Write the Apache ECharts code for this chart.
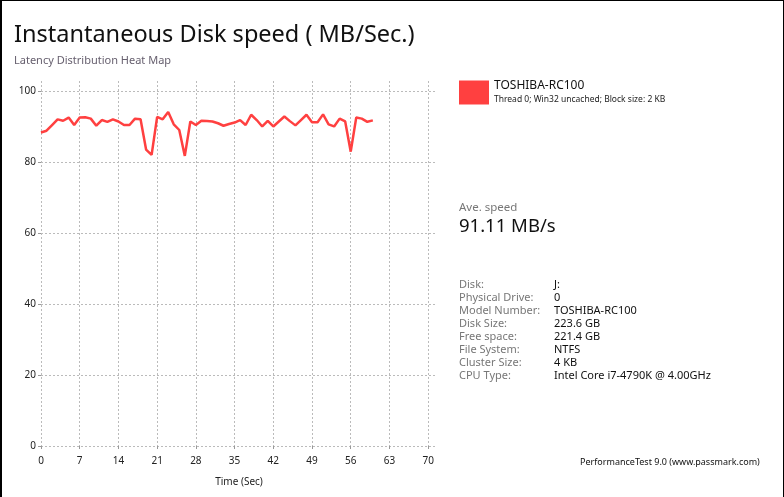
<!DOCTYPE html>
<html>
<head>
<meta charset="utf-8">
<style>
  html, body { margin: 0; padding: 0; background: #fff; }
  #chart { width: 784px; height: 497px; box-sizing: border-box; border: 1px solid #000; border-bottom: none; border-left-width: 2px; }
</style>
<script src="https://cdn.jsdelivr.net/npm/echarts@6/dist/echarts.min.js"></script>
</head>
<body>
<div id="chart"></div>
<script>
// seconds 0..60
const seconds = [0,1,2,3,4,5,6,7,8,9,10,11,12,13,14,15,16,17,18,19,20,21,22,23,24,25,26,27,28,29,30,
  31,32,33,34,35,36,37,38,39,40,41,42,43,44,45,46,47,48,49,50,51,52,53,54,55,56,57,58,59,60]
const speed = [88.3,88.8,90.4,92.0,91.6,92.5,90.4,92.5,92.6,92.2,90.2,91.8,91.3,92.0,91.4,90.4,90.4,92.2,92.0,83.5,
  82.0,92.7,92.0,94.1,90.6,89.0,81.7,91.4,90.4,91.6,91.5,91.4,90.9,90.2,90.7,91.1,91.8,90.4,93.3,91.8,
  90.0,91.6,90.0,91.4,92.8,91.5,90.3,91.8,93.3,91.2,91.2,93.4,90.6,90.0,92.2,91.4,82.9,92.5,92.2,91.3,91.7]
const infoLabels = ['Disk:', 'Physical Drive:', 'Model Number:', 'Disk Size:', 'Free space:', 'File System:', 'Cluster Size:', 'CPU Type:']
const infoValues = ['J:', '0', 'TOSHIBA-RC100', '223.6 GB', '221.4 GB', 'NTFS', '4 KB', 'Intel Core i7-4790K @ 4.00GHz']

const font = 'Noto Sans'
const chart = echarts.init(document.getElementById('chart'))

const infoText = []
infoLabels.forEach((lab, i) => {
  infoText.push({ type: 'text', left: 457, top: 278 + i * 13,
    style: { text: lab, font: '11px "Noto Sans"', fill: '#777' } })
  infoText.push({ type: 'text', left: 552, top: 278 + i * 13,
    style: { text: infoValues[i], font: '11px "Noto Sans"', fill: '#111' } })
})

chart.setOption({
  animation: false,
  textStyle: { fontFamily: font },
  title: {
    text: 'Instantaneous Disk speed ( MB/Sec.)',
    subtext: 'Latency Distribution Heat Map',
    left: 7,
    top: 17,
    itemGap: 8,
    textStyle: { fontFamily: font, fontSize: 23.5, fontWeight: 'normal', color: '#111' },
    subtextStyle: { fontFamily: font, fontSize: 11, color: '#665f6e' }
  },
  legend: {
    left: 452,
    top: 74,
    itemWidth: 30,
    itemHeight: 24,
    itemGap: 6,
    icon: 'rect',
    data: ['TOSHIBA-RC100'],
    formatter: name => '{a|' + name + '}\n{b|Thread 0; Win32 uncached; Block size: 2 KB}',
    textStyle: {
      rich: {
        a: { fontFamily: font, fontSize: 12, color: '#111', lineHeight: 15 },
        b: { fontFamily: font, fontSize: 8.5, color: '#222', lineHeight: 13 }
      }
    }
  },
  grid: { left: 39, right: 346, top: 80, bottom: 51 },
  xAxis: {
    type: 'value',
    min: 0,
    max: 71.6,
    interval: 7,
    name: 'Time (Sec)',
    nameLocation: 'middle',
    nameGap: 31,
    nameTextStyle: { fontSize: 10, color: '#222' },
    axisLine: { show: false },
    axisTick: { show: true, length: 3, lineStyle: { color: '#999' } },
    axisLabel: { showMaxLabel: false, fontSize: 10, color: '#222', margin: 10 },
    splitLine: { show: true, showMaxLine: false, lineStyle: { color: '#bbb', type: [2, 2], width: 1 } }
  },
  yAxis: {
    type: 'value',
    min: 0,
    max: 102.8,
    interval: 20,
    axisLine: { show: false },
    axisTick: { show: true, length: 3, lineStyle: { color: '#999' } },
    axisLabel: { showMaxLabel: false, fontSize: 10, color: '#222', margin: 5 },
    splitLine: { show: true, showMaxLine: false, lineStyle: { color: '#bbb', type: [2, 2], width: 1 } }
  },
  graphic: [
    { type: 'text', left: 457, top: 201, style: { text: 'Ave. speed', font: '11.5px "Noto Sans"', fill: '#777' } },
    { type: 'text', left: 457, top: 216, style: { text: '91.11 MB/s', font: '18.5px "Noto Sans"', fill: '#111' } },
    { type: 'text', left: 578, top: 457, style: { text: 'PerformanceTest 9.0 (www.passmark.com)', font: '9px "Noto Sans"', fill: '#111' } }
  ].concat(infoText),
  series: [{
    name: 'TOSHIBA-RC100',
    type: 'line',
    data: seconds.map((s, i) => [s, speed[i]]),
    showSymbol: false,
    color: '#ff4040',
    lineStyle: { width: 2.5, color: '#ff4040' }
  }]
})
</script>
</body>
</html>
